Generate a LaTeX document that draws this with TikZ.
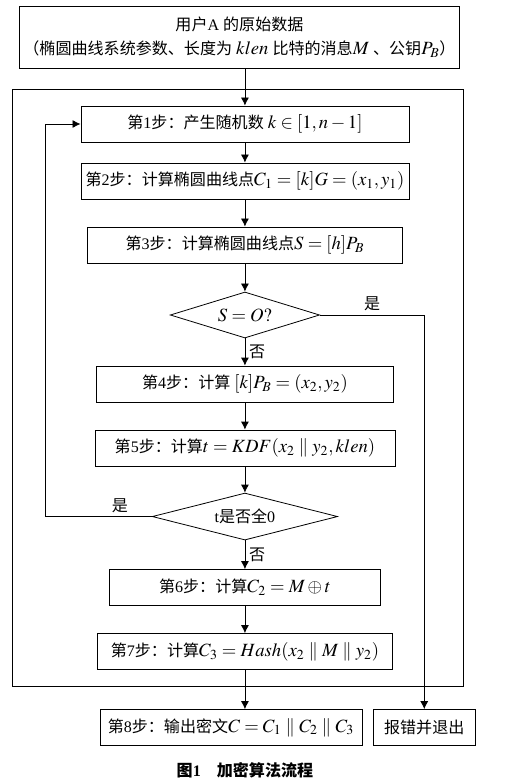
\documentclass[tikz,border=0pt]{standalone}
\usepackage{mathptmx}
\usepackage{fontspec}
\setmainfont[Scale=0.86]{Liberation Serif}
\newfontfamily\cjk[Scale=0.86]{Noto Sans CJK SC}
\newcommand{\zh}[1]{{\cjk #1}}
\usetikzlibrary{shapes.geometric,arrows.meta}
\tikzstyle{datain} = [rectangle, minimum width=326pt, minimum height=46.5pt, align=center, draw, font=\fontsize{14}{18.5}\selectfont]
\tikzstyle{process} = [rectangle, minimum height=27pt, text centered, draw, inner sep=2pt]
\tikzstyle{decision} = [diamond, aspect=3, inner sep=0pt, text centered, draw]
\tikzstyle{arrow} = [->,>={Latex[length=6pt,width=6pt]}]

\begin{document}
\begin{tikzpicture}[node distance=48pt, line width=0.6pt, font=\fontsize{14}{16}\selectfont]
\useasboundingbox (-179.6pt,27.75pt) rectangle (201.4pt,-560.25pt);
\node (top) [datain] at (0,0) {\zh{用户}A \zh{的原始数据}\\\zh{（椭圆曲线系统参数、长度为} $klen$ \zh{比特的消息}$M$ \zh{、公钥}$P_B$\zh{）}};
\node (box1) [process, minimum width=246pt, below of=top, xshift=4.1pt, yshift=-17.25pt] {\zh{第}1\zh{步：产生随机数} $k\in[1,n-1]$};
\node (box2) [process, minimum width=246pt, below of=box1, yshift=5.25pt] {\zh{第}2\zh{步：计算椭圆曲线点}$C_1=[k]G=(x_1,y_1)$};
\node (box3) [process, minimum width=236pt, below of=box2] {\zh{第}3\zh{步：计算椭圆曲线点}$S=[h]P_B$};
\node (d1) [decision, minimum width=112pt, minimum height=34.5pt, below of=box3, yshift=-4.5pt] {$S=O?$};
\node (box4) [process, minimum width=223pt, below of=d1, yshift=-3.75pt] {\zh{第}4\zh{步：计算} $[k]P_B=(x_2,y_2)$};
\node (box5) [process, minimum width=225pt, below of=box4] {\zh{第}5\zh{步：计算}$t=KDF(x_2\parallel y_2,klen)$};
\node (d2) [decision, minimum width=139pt, minimum height=35.25pt, below of=box5, yshift=-3.4pt] {t\zh{是否全}0};
\node (box6) [process, minimum width=203pt, below of=d2, yshift=-5.25pt] {\zh{第}6\zh{步：计算}$C_2=M\oplus t$};
\node (box7) [process, minimum width=221pt, below of=box6] {\zh{第}7\zh{步：计算}$C_3=Hash(x_2\parallel M\parallel y_2)$};
\node (box8) [process, minimum width=196.5pt, below of=box7, xshift=-10.5pt, yshift=-9pt] {\zh{第}8\zh{步：输出密文}$C=C_1\parallel C_2\parallel C_3$};
\node (err) [process, minimum width=77pt, right of=box8, xshift=97pt] {\zh{报错并退出}};
\node (caption) at (4.1pt,-549.75pt) {\zh{\bfseries 图}\textbf{1}\quad\zh{\bfseries 加密算法流程}};

% outer frame
\draw (-170pt,-39pt) rectangle (167.6pt,-486.75pt);

\draw [arrow] (top.south -| box1.north) -- (box1.north);
\draw [arrow] (box1) -- (box2);
\draw [arrow] (box2) -- (box3);
\draw [arrow] (box3) -- (d1);
\draw [arrow] (d1) -- node[right] {\zh{否}} (box4);
\draw [arrow] (box4) -- (box5);
\draw [arrow] (box5) -- (d2);
\draw [arrow] (d2) -- node[right] {\zh{否}} (box6);
\draw [arrow] (box6) -- (box7);
\draw [arrow] (box7.south) -- (box7.south |- box8.north);
\draw [arrow] (d1.east) -| node[above, pos=0.25] {\zh{是}} (err.north);
\draw [arrow] (d2.west) -- node[above, pos=0.3] {\zh{是}} ++(-80pt,0) |- (box1.west);
\end{tikzpicture}
\end{document}
